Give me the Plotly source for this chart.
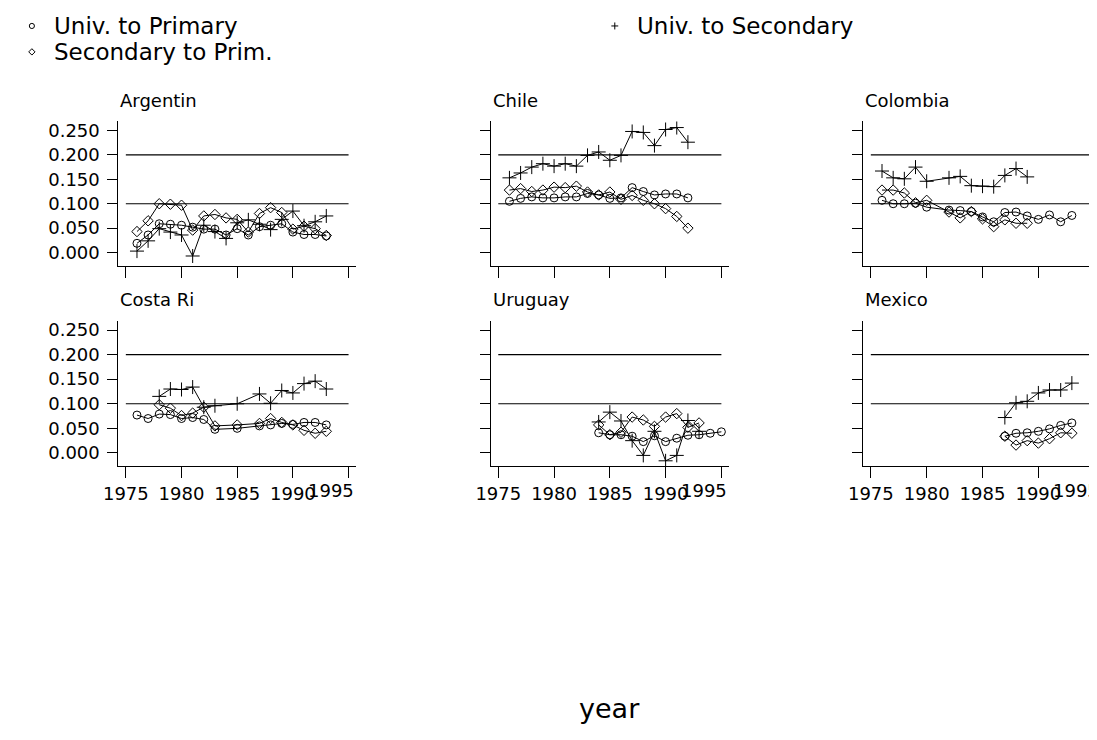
import plotly.graph_objects as go

FONT = "DejaVu Sans"

# ---------------- data ----------------
panel_names = ["Argentin", "Chile", "Colombia", "Costa Ri", "Uruguay", "Mexico"]
series_names = ["Univ. to Primary", "Univ. to Secondary", "Secondary to Prim."]

arg_years = [1976, 1977, 1978, 1979, 1980, 1981, 1982, 1983, 1984, 1985, 1986, 1987, 1988, 1989, 1990, 1991, 1992, 1993]
arg_univ_prim = [0.019, 0.036, 0.059, 0.058, 0.056, 0.052, 0.048, 0.048, 0.036, 0.049, 0.036, 0.053, 0.056, 0.059, 0.042, 0.037, 0.037, 0.034]
arg_univ_sec = [0.003, 0.024, 0.049, 0.042, 0.036, -0.007, 0.056, 0.043, 0.029, 0.061, 0.067, 0.058, 0.047, 0.068, 0.085, 0.055, 0.063, 0.075]
arg_sec_prim = [0.043, 0.065, 0.100, 0.099, 0.097, 0.046, 0.075, 0.078, 0.071, 0.068, 0.042, 0.080, 0.092, 0.082, 0.048, 0.054, 0.049, 0.035]

chi_years = [1976, 1977, 1978, 1979, 1980, 1981, 1982, 1983, 1984, 1985, 1986, 1987, 1988, 1989, 1990, 1991, 1992]
chi_univ_prim = [0.105, 0.111, 0.114, 0.112, 0.112, 0.114, 0.114, 0.121, 0.118, 0.111, 0.112, 0.133, 0.125, 0.118, 0.120, 0.120, 0.112]
chi_univ_sec = [0.153, 0.163, 0.175, 0.182, 0.177, 0.182, 0.177, 0.199, 0.206, 0.189, 0.199, 0.248, 0.246, 0.219, 0.252, 0.256, 0.226]
chi_sec_prim = [0.128, 0.131, 0.125, 0.128, 0.134, 0.133, 0.136, 0.124, 0.118, 0.124, 0.109, 0.117, 0.107, 0.100, 0.090, 0.074, 0.050]

col_years = [1976, 1977, 1978, 1979, 1980, 1982, 1983, 1984, 1985, 1986, 1987, 1988, 1989, 1990, 1991, 1992, 1993]
col_univ_prim = [0.107, 0.100, 0.100, 0.101, 0.093, 0.087, 0.086, 0.084, 0.073, 0.063, 0.082, 0.083, 0.075, 0.068, 0.077, 0.063, 0.076]
col_univ_sec = [0.167, 0.153, 0.151, 0.175, 0.146, 0.153, 0.156, 0.137, 0.136, 0.135, 0.158, 0.172, 0.155, None, None, None, None]
col_sec_prim = [0.128, 0.128, 0.122, 0.102, 0.107, 0.083, 0.071, 0.084, 0.069, 0.053, 0.067, 0.060, 0.060, None, None, None, None]

cri_years = [1976, 1977, 1978, 1979, 1980, 1981, 1982, 1983, 1985, 1987, 1988, 1989, 1990, 1991, 1992, 1993]
cri_univ_prim = [0.077, 0.070, 0.079, 0.078, 0.070, 0.072, 0.068, 0.048, 0.050, 0.055, 0.057, 0.060, 0.058, 0.062, 0.062, 0.057]
cri_univ_sec = [None, None, 0.115, 0.130, 0.129, 0.134, 0.093, 0.096, 0.100, 0.120, 0.101, 0.127, 0.122, 0.141, 0.146, 0.130]
cri_sec_prim = [None, None, 0.098, 0.091, 0.076, 0.081, 0.093, 0.055, 0.057, 0.060, 0.070, 0.062, 0.057, 0.046, 0.040, 0.044]

uru_years = [1984, 1985, 1986, 1987, 1988, 1989, 1990, 1991, 1992, 1993, 1994, 1995]
uru_univ_prim = [0.041, 0.037, 0.037, 0.034, 0.023, 0.035, 0.023, 0.030, 0.036, 0.037, 0.040, 0.043]
uru_univ_sec = [0.063, 0.083, 0.065, 0.025, -0.005, 0.044, -0.016, -0.005, 0.066, 0.044, None, None]
uru_sec_prim = [0.057, 0.037, 0.042, 0.073, 0.067, 0.054, 0.073, 0.080, 0.052, 0.061, None, None]

mex_years = [1987, 1988, 1989, 1990, 1991, 1992, 1993]
mex_univ_prim = [0.034, 0.040, 0.041, 0.044, 0.049, 0.056, 0.061]
mex_univ_sec = [0.072, 0.102, 0.105, 0.122, 0.128, 0.128, 0.142]
mex_sec_prim = [0.034, 0.016, 0.025, 0.020, 0.029, 0.041, 0.040]

x_ticks = [1975, 1980, 1985, 1990, 1995]
y_ticks = [0.0, 0.05, 0.10, 0.15, 0.20, 0.25]
ref_lines = [0.1, 0.2]

panels = [
    (arg_years, arg_univ_prim, arg_univ_sec, arg_sec_prim),
    (chi_years, chi_univ_prim, chi_univ_sec, chi_sec_prim),
    (col_years, col_univ_prim, col_univ_sec, col_sec_prim),
    (cri_years, cri_univ_prim, cri_univ_sec, cri_sec_prim),
    (uru_years, uru_univ_prim, uru_univ_sec, uru_sec_prim),
    (mex_years, mex_univ_prim, mex_univ_sec, mex_sec_prim),
]

# ---------------- layout geometry (pixels) ----------------
W, H = 1097, 740
col_px = [(96.7, 337.3), (474.3, 715.3), (852.0, 1093.3)]
row_px = [(111.7, 256.7), (311.7, 457.7)]
x_range = [1974.33, 1995.64]
y_range = [-0.0275, 0.2686]

symbols = ["circle-open", "cross-thin-open", "diamond-open"]
sizes = [8, 10, 8]
TICKFONT = dict(family=FONT, size=18, color="black")

fig = go.Figure()
layout = {}
shapes = []
annotations = []

for i, (name, data) in enumerate(zip(panel_names, panels)):
    r, c = divmod(i, 3)
    k = i + 1
    xa = "x" if k == 1 else f"x{k}"
    ya = "y" if k == 1 else f"y{k}"
    xl, xr = col_px[c]
    yt, yb = row_px[r]
    # last x label is pushed inside the plot edge (as in the original), drawn as annotation
    xt_text = [str(v) for v in x_ticks[:-1]] + [""] if r == 1 else [""] * len(x_ticks)
    layout["xaxis" if k == 1 else f"xaxis{k}"] = dict(
        domain=[xl / W, xr / W], range=x_range, anchor=ya,
        tickmode="array", tickvals=x_ticks, ticktext=xt_text,
        ticks="outside", ticklen=11, tickwidth=1, tickcolor="black",
        showline=True, linecolor="black", linewidth=1,
        showgrid=False, zeroline=False, tickfont=TICKFONT,
    )
    layout["yaxis" if k == 1 else f"yaxis{k}"] = dict(
        domain=[1 - yb / H, 1 - yt / H], range=y_range, anchor=xa,
        tickmode="array", tickvals=y_ticks,
        ticktext=[f"{v:.3f}" for v in y_ticks] if c == 0 else [""] * len(y_ticks),
        ticks="outside", ticklen=10, tickwidth=1, tickcolor="black",
        showline=True, linecolor="black", linewidth=1,
        showgrid=False, zeroline=False, tickfont=TICKFONT,
        ticklabelstandoff=4,
    )
    if r == 1:
        annotations.append(dict(text=str(x_ticks[-1]), x=xr / W, y=1 - (yb + 12) / H,
                                xref="paper", yref="paper", xanchor="right", yanchor="top",
                                showarrow=False, font=TICKFONT))
    for yv in ref_lines:
        shapes.append(dict(type="line", xref=xa, yref=ya, x0=x_ticks[0], x1=x_ticks[-1],
                           y0=yv, y1=yv, line=dict(color="black", width=1.2)))
    years = data[0]
    for s in range(3):
        fig.add_trace(go.Scatter(
            x=years, y=data[1 + s], xaxis=xa, yaxis=ya, mode="lines+markers",
            connectgaps=True, showlegend=False, name=series_names[s],
            line=dict(color="black", width=1),
            marker=dict(symbol=symbols[s], size=sizes[s], color="black",
                        line=dict(color="black", width=1)),
        ))
    annotations.append(dict(text=name, x=xl / W, y=1 - (yt - 21) / H, xref="paper", yref="paper",
                            xanchor="left", yanchor="middle", showarrow=False,
                            font=dict(family=FONT, size=18, color="black")))

# ---------------- legend (drawn manually) ----------------
leg_font = dict(family=FONT, size=23, color="black")
leg_items = [
    (series_names[0], 9, 16, "circle"),
    (series_names[1], 600, 16, "plus"),
    (series_names[2], 9, 42, "diamond"),
]
for text, mx, my, kind in leg_items:
    xf, yf = mx / W, 1 - my / H
    rx, ry = 2.6 / W, 2.6 / H
    if kind == "circle":
        shapes.append(dict(type="circle", xref="paper", yref="paper",
                           x0=xf - rx, x1=xf + rx, y0=yf - ry, y1=yf + ry,
                           line=dict(color="black", width=1)))
    elif kind == "diamond":
        dx, dy = 3.2 / W, 3.2 / H
        shapes.append(dict(type="path", xref="paper", yref="paper",
                           path=f"M {xf-dx} {yf} L {xf} {yf+dy} L {xf+dx} {yf} L {xf} {yf-dy} Z",
                           line=dict(color="black", width=1)))
    else:
        dx, dy = 3.5 / W, 3.5 / H
        shapes.append(dict(type="line", xref="paper", yref="paper", x0=xf - dx, x1=xf + dx,
                           y0=yf, y1=yf, line=dict(color="black", width=1)))
        shapes.append(dict(type="line", xref="paper", yref="paper", x0=xf, x1=xf,
                           y0=yf - dy, y1=yf + dy, line=dict(color="black", width=1)))
    annotations.append(dict(text=text, x=(mx + 20) / W, y=yf, xref="paper", yref="paper",
                            xanchor="left", yanchor="middle", showarrow=False, font=leg_font))

annotations.append(dict(text="year", x=595 / W, y=1 - 700 / H, xref="paper", yref="paper",
                        xanchor="center", yanchor="middle", showarrow=False,
                        font=dict(family=FONT, size=27, color="black")))

fig.update_layout(
    width=W, height=H, margin=dict(l=0, r=0, t=0, b=0),
    paper_bgcolor="white", plot_bgcolor="white",
    showlegend=False, shapes=shapes, annotations=annotations,
    **layout,
)

fig.write_html("out.html")
